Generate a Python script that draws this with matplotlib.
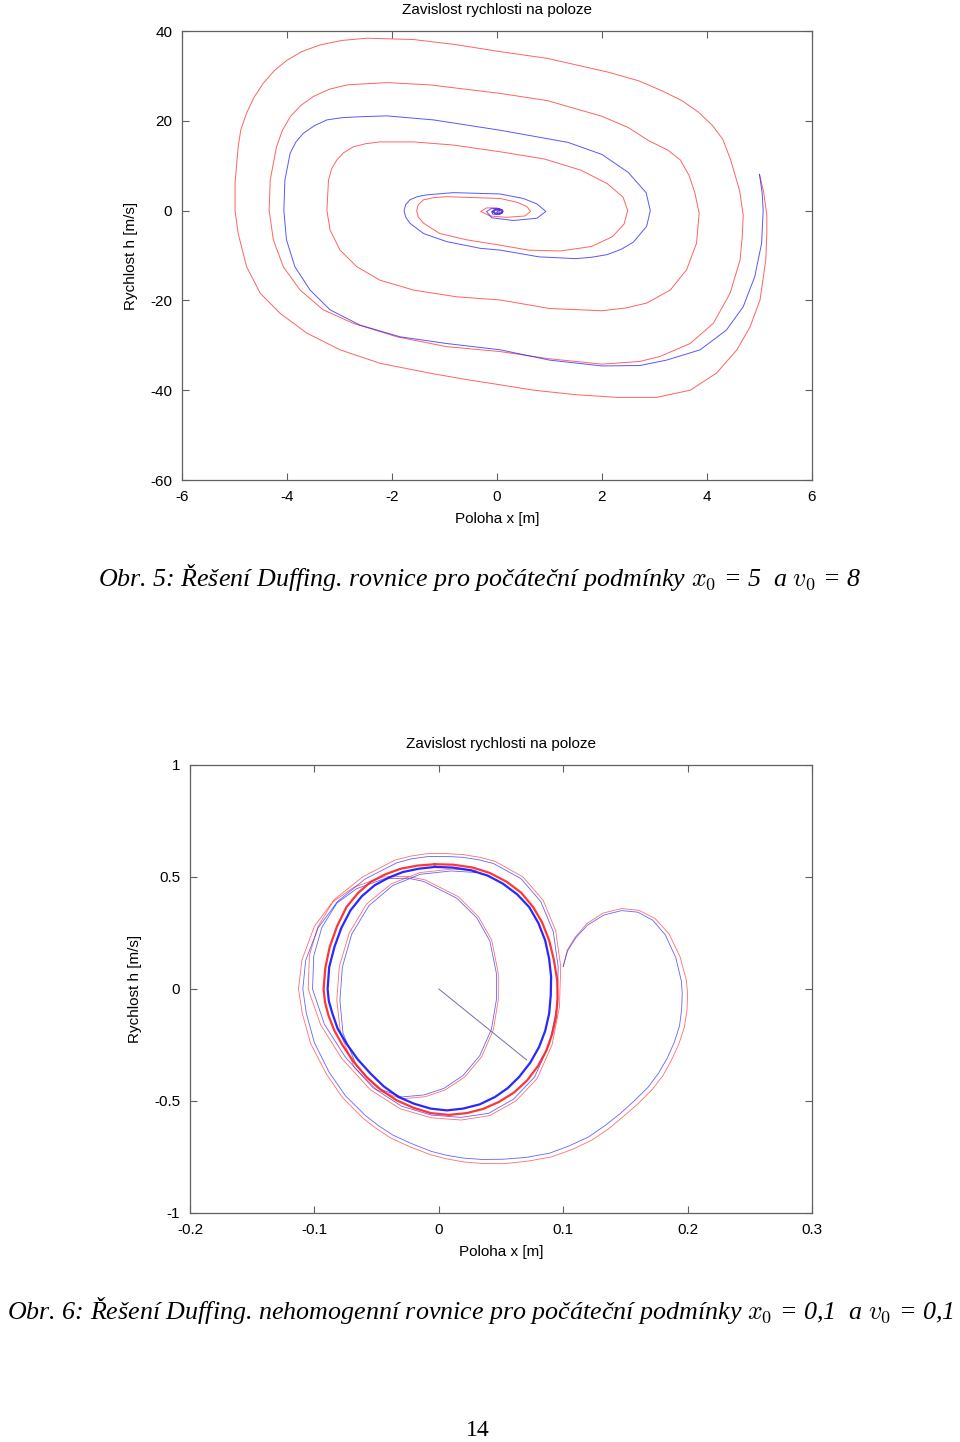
import numpy as np
import matplotlib
matplotlib.use('Agg')
import matplotlib.pyplot as plt

plt.rcParams['axes.unicode_minus'] = False
plt.rcParams['mathtext.fontset'] = 'cm'
plt.rcParams['font.family'] = ['Liberation Sans', 'DejaVu Sans']

# ---------------- data: Obr. 5 (x [m], v [m/s]) ----------------
top_red = [
    (5.00, 8.1), (5.08, 4.0), (5.14, -1.0), (5.14, -5.0), (5.12, -11.0), (5.01, -19.9),
    (4.82, -25.9), (4.57, -31.0), (4.18, -36.2), (3.68, -40.0), (3.04, -41.6), (2.3, -41.6),
    (1.5, -41.0), (0.7, -40.0), (0.06, -38.8), (-0.6, -37.6), (-1.28, -36.2), (-2.23, -34.0),
    (-2.99, -31.0), (-3.62, -27.3), (-4.13, -22.9), (-4.51, -18.4), (-4.77, -12.5), (-4.93, -5.1),
    (-4.99, 0.0), (-4.99, 6.1), (-4.93, 14.2), (-4.88, 18.0), (-4.77, 21.7), (-4.63, 25.2),
    (-4.45, 28.4), (-4.24, 31.2), (-4.0, 33.5), (-3.72, 35.4), (-3.37, 36.9), (-2.95, 37.9),
    (-2.48, 38.4), (-1.59, 38.1), (-0.8, 37.0), (0.06, 35.4), (0.96, 33.9), (2.13, 30.8),
    (2.7, 28.9), (3.14, 26.7), (3.52, 24.5), (3.84, 21.9), (4.1, 19.0), (4.30, 15.9),
    (4.45, 11.3), (4.62, 4.5), (4.69, -1.0), (4.67, -6.0), (4.63, -11.0), (4.44, -18.4),
    (4.12, -25.1), (3.68, -29.6), (3.10, -32.5), (2.72, -33.6), (2.0, -34.2), (1.0, -33.0),
    (0.06, -31.4), (-0.96, -30.3), (-1.91, -28.1), (-2.74, -25.1), (-3.31, -22.1), (-3.75, -17.7),
    (-4.07, -12.5), (-4.26, -6.5), (-4.34, 0.0), (-4.32, 6.8), (-4.20, 14.2), (-4.09, 17.8),
    (-3.94, 20.9), (-3.74, 23.4), (-3.50, 25.4), (-3.2, 27.0), (-2.86, 28.0), (-2.10, 28.5),
    (-1.28, 28.0), (0.06, 26.1), (0.96, 24.5), (2.0, 21.0), (2.5, 18.5), (2.9, 15.5),
    (3.25, 13.5), (3.49, 11.3), (3.66, 7.8), (3.77, 3.9), (3.85, -0.6), (3.80, -7.3),
    (3.61, -13.2), (3.30, -17.7), (2.85, -20.6), (2.45, -21.7), (2.0, -22.3), (1.0, -21.8),
    (0.06, -19.9), (-0.77, -19.2), (-1.59, -17.7), (-2.23, -15.5), (-2.67, -12.5), (-2.99, -8.8),
    (-3.18, -4.3), (-3.24, 0.0), (-3.21, 6.8), (-3.15, 9.3), (-3.05, 11.3), (-2.92, 12.9),
    (-2.74, 14.2), (-2.5, 14.9), (-2.23, 15.3), (-1.59, 15.3), (-0.83, 14.6), (0.06, 13.1),
    (0.9, 11.5), (1.6, 9.0), (2.1, 6.0), (2.4, 3.0), (2.49, 0.0), (2.42, -3.0),
    (2.2, -5.8), (1.8, -8.0), (1.2, -9.0), (0.6, -8.8), (0.06, -7.7), (-0.58, -6.5),
    (-1.09, -5.1), (-1.40, -2.8), (-1.50, -1.4), (-1.53, 0.0), (-1.50, 1.3), (-1.40, 2.4),
    (-1.2, 2.9), (-0.96, 3.1), (0.06, 2.7), (0.4, 1.8), (0.57, 0.9), (0.64, -0.2),
    (0.53, -1.2), (0.18, -1.5), (-0.13, -1.2), (-0.31, -0.2), (-0.2, 0.6), (0.0, 0.6),
    (0.1, 0.2), (0.1, -0.5), (0.0, -0.8), (-0.1, -0.3), (-0.05, 0.3), (0.05, 0.2),
    (0.05, -0.4), (0.0, -0.3),
]
top_blue = [
    (5.00, 8.0), (5.05, 4.0), (5.07, 0.1), (5.04, -7.3), (4.91, -14.7), (4.69, -21.4),
    (4.37, -26.6), (3.87, -31.0), (3.23, -33.3), (2.72, -34.5), (2.0, -34.6), (1.0, -33.3),
    (0.06, -31.0), (-0.96, -29.6), (-1.85, -28.1), (-2.61, -25.5), (-3.18, -22.1), (-3.56, -17.7),
    (-3.85, -12.5), (-4.01, -6.5), (-4.06, 0.0), (-4.04, 6.8), (-3.94, 12.8), (-3.83, 15.3),
    (-3.69, 17.2), (-3.48, 18.9), (-3.24, 20.2), (-2.95, 20.7), (-2.61, 20.9), (-2.10, 21.1),
    (-1.21, 20.2), (0.06, 17.9), (1.35, 15.2), (2.0, 12.5), (2.5, 8.5), (2.84, 4.0),
    (2.92, 0.0), (2.85, -3.5), (2.6, -7.0), (2.37, -8.6), (2.1, -9.8), (1.8, -10.4),
    (1.5, -10.7), (0.8, -10.3), (0.06, -8.8), (-0.32, -8.4), (-0.96, -6.9), (-1.40, -5.1),
    (-1.66, -2.8), (-1.74, -1.4), (-1.77, 0.0), (-1.74, 1.3), (-1.66, 2.4), (-1.52, 3.1),
    (-1.34, 3.5), (-0.83, 4.0), (0.06, 3.7), (0.5, 2.7), (0.76, 1.5), (0.93, -0.2),
    (0.76, -1.7), (0.31, -2.2), (-0.1, -1.6), (-0.2, -0.2), (-0.1, 0.5), (0.05, 0.4),
    (0.12, -0.2), (0.05, -0.9), (-0.08, -0.8), (-0.1, -0.2), (0.0, 0.4), (0.11, 0.1),
    (0.1, -0.6), (0.0, -0.8), (-0.08, -0.3), (0.0, 0.3), (0.1, -0.1), (0.05, -0.6),
    (-0.05, -0.5), (-0.05, 0.1), (0.05, 0.1), (0.0, -0.3),
]
top_xticks = [-6, -4, -2, 0, 2, 4, 6]
top_yticks = [-60, -40, -20, 0, 20, 40]

# ---------------- data: Obr. 6 ----------------
bot_red = [
    (0.1, 0.1), (0.1032, 0.173), (0.1097, 0.232), (0.119, 0.292), (0.132, 0.339), (0.147, 0.359),
    (0.161, 0.351), (0.174, 0.314), (0.185, 0.247), (0.194, 0.143), (0.199, 0.039), (0.2, -0.021),
    (0.1995, -0.095), (0.1974, -0.170), (0.193, -0.245), (0.187, -0.318), (0.18, -0.388),
    (0.171, -0.452), (0.160, -0.513), (0.148, -0.571), (0.136, -0.626), (0.1226, -0.676),
    (0.107, -0.717), (0.0903, -0.75), (0.071, -0.769), (0.0516, -0.78), (0.035, -0.779),
    (0.02, -0.772), (0.006, -0.758), (-0.0065, -0.74), (-0.023, -0.705), (-0.0387, -0.665),
    (-0.0505, -0.622), (-0.0613, -0.575), (-0.0774, -0.485), (-0.0903, -0.38), (-0.103, -0.244),
    (-0.1097, -0.11), (-0.1128, 0.0), (-0.11, 0.13), (-0.1, 0.28), (-0.0839, 0.4),
    (-0.0613, 0.5), (-0.0355, 0.575), (-0.023, 0.593), (-0.0097, 0.604), (0.005, 0.605),
    (0.0194, 0.6), (0.033, 0.588), (0.0452, 0.57), (0.0677, 0.5), (0.0839, 0.396), (0.094, 0.26),
    (0.098, 0.1), (0.097, -0.08), (0.091, -0.25), (0.079, -0.4), (0.062, -0.5), (0.041, -0.565),
    (0.018, -0.585), (-0.006, -0.575), (-0.031, -0.535), (-0.055, -0.45), (-0.078, -0.31),
    (-0.095, -0.16), (-0.105, 0.0), (-0.104, 0.15), (-0.097, 0.28), (-0.085, 0.39),
    (-0.068, 0.455), (-0.045, 0.5), (-0.025, 0.503), (-0.011, 0.487), (0.0157, 0.412),
    (0.0318, 0.323), (0.0425, 0.219), (0.0478, 0.070), (0.0478, -0.049), (0.0438, -0.183),
    (0.0345, -0.302), (0.021, -0.392), (0.005, -0.451), (-0.011, -0.481), (-0.03, -0.49),
    (-0.05, -0.45), (-0.068, -0.35), (-0.079, -0.2), (-0.082, -0.05), (-0.080, 0.1),
    (-0.072, 0.25), (-0.058, 0.38), (-0.038, 0.47), (-0.015, 0.52), (0.01, 0.535),
    (0.03, 0.53),
]
bot_blue = [
    (0.1, 0.1), (0.1035, 0.17), (0.11, 0.228), (0.1195, 0.285), (0.1325, 0.33), (0.147, 0.35),
    (0.16, 0.343), (0.172, 0.307), (0.182, 0.242), (0.1905, 0.14), (0.195, 0.035), (0.1957, -0.02),
    (0.1952, -0.092), (0.1935, -0.165), (0.1893, -0.238), (0.1835, -0.31), (0.1765, -0.377),
    (0.168, -0.44), (0.157, -0.50), (0.1455, -0.558), (0.133, -0.612), (0.1205, -0.66),
    (0.105, -0.700), (0.089, -0.733), (0.070, -0.752), (0.0516, -0.76), (0.035, -0.761),
    (0.02, -0.755), (0.006, -0.742), (-0.006, -0.725), (-0.022, -0.69), (-0.037, -0.652),
    (-0.0485, -0.61), (-0.059, -0.565), (-0.075, -0.477), (-0.088, -0.373), (-0.1, -0.24),
    (-0.1065, -0.108), (-0.1093, 0.0), (-0.107, 0.128), (-0.097, 0.273), (-0.0815, 0.39),
    (-0.0595, 0.49), (-0.034, 0.563), (-0.022, 0.581), (-0.009, 0.591), (0.005, 0.592),
    (0.019, 0.588), (0.032, 0.577), (0.044, 0.56), (0.066, 0.493), (0.082, 0.39),
    (0.092, 0.256), (0.096, 0.098), (0.095, -0.078), (0.089, -0.245), (0.077, -0.393),
    (0.06, -0.492), (0.04, -0.555), (0.018, -0.573), (-0.006, -0.563), (-0.03, -0.523),
    (-0.053, -0.44), (-0.075, -0.305), (-0.092, -0.157), (-0.1015, 0.0), (-0.1005, 0.148),
    (-0.094, 0.275), (-0.082, 0.383), (-0.066, 0.448), (-0.044, 0.492), (-0.025, 0.495),
    (-0.012, 0.48), (0.0145, 0.405), (0.0305, 0.318), (0.041, 0.215), (0.0463, 0.07),
    (0.0463, -0.048), (0.0423, -0.18), (0.033, -0.297), (0.0195, -0.386), (0.004, -0.444),
    (-0.012, -0.473), (-0.03, -0.482), (-0.049, -0.443), (-0.066, -0.345), (-0.077, -0.197),
    (-0.0795, -0.05), (-0.0775, 0.098), (-0.07, 0.245), (-0.056, 0.373), (-0.037, 0.462),
    (-0.015, 0.512), (0.01, 0.527), (0.03, 0.52),
]
# settled cycle (drawn heavier)
ring_red = [
    (-0.0032, 0.557), (0.0115, 0.555), (0.0274, 0.542), (0.0410, 0.518), (0.0548, 0.478),
    (0.0662, 0.430), (0.0758, 0.366), (0.0830, 0.298), (0.0887, 0.217), (0.0925, 0.130),
    (0.0952, 0.039), (0.0955, -0.043), (0.0942, -0.125), (0.0912, -0.200), (0.0865, -0.274),
    (0.0797, -0.344), (0.0710, -0.408), (0.0605, -0.462), (0.0484, -0.504), (0.0358, -0.535),
    (0.0226, -0.554), (0.0080, -0.562), (-0.0065, -0.554), (-0.0205, -0.530), (-0.0339, -0.497),
    (-0.0465, -0.450), (-0.0581, -0.393), (-0.0683, -0.326), (-0.0774, -0.251), (-0.0840, -0.185),
    (-0.0887, -0.118), (-0.0915, -0.058), (-0.0926, 0.0), (-0.0912, 0.095), (-0.0877, 0.1875),
    (-0.0818, 0.280), (-0.0742, 0.366), (-0.0650, 0.428), (-0.0548, 0.478), (-0.0430, 0.512),
    (-0.0306, 0.537), (-0.0170, 0.551), (-0.0032, 0.557),
]
ring_blue = [
    (-0.0032, 0.545), (0.0113, 0.542), (0.0258, 0.530), (0.0394, 0.506), (0.0516, 0.470),
    (0.0629, 0.423), (0.0726, 0.366), (0.0800, 0.295), (0.0855, 0.217), (0.0887, 0.135),
    (0.0903, 0.054), (0.0900, -0.028), (0.0887, -0.110), (0.0855, -0.1875), (0.0806, -0.259),
    (0.0735, -0.329), (0.0645, -0.393), (0.0555, -0.442), (0.0452, -0.482), (0.0329, -0.515),
    (0.0194, -0.534), (0.0065, -0.542), (-0.0065, -0.534), (-0.0200, -0.512), (-0.0323, -0.482),
    (-0.0442, -0.435), (-0.0548, -0.378), (-0.0652, -0.314), (-0.0742, -0.244), (-0.0813, -0.177),
    (-0.0855, -0.110), (-0.0884, -0.054), (-0.0894, 0.0), (-0.0881, 0.098), (-0.0839, 0.1875),
    (-0.0784, 0.272), (-0.0710, 0.351), (-0.0619, 0.414), (-0.0516, 0.463), (-0.0403, 0.497),
    (-0.0290, 0.522), (-0.0161, 0.537), (-0.0032, 0.545),
]
bot_line = [(0.0, 0.0), (0.0707, -0.317)]
bot_xticks = [-0.2, -0.1, 0, 0.1, 0.2, 0.3]
bot_xlabels = ['-0.2', '-0.1', '0', '0.1', '0.2', '0.3']
bot_yticks = [-1, -0.5, 0, 0.5, 1]
bot_ylabels = ['-1', '-0.5', '0', '0.5', '1']

TITLE = 'Zavislost rychlosti na poloze'
XLABEL = 'Poloha x [m]'
YLABEL = 'Rychlost h [m/s]'
RED = '#ff2020'
BLUE = '#1010ff'

W, H = 960, 1442
fig = plt.figure(figsize=(W / 100, H / 100), dpi=100)


def style_axes(ax):
    for s in ax.spines.values():
        s.set_color('#606060')
        s.set_linewidth(0.9)
    ax.tick_params(direction='in', length=5, width=0.8, color='#606060',
                   top=True, right=True, labelsize=11, pad=7)
    ax.set_title(TITLE, fontsize=11, pad=12)
    ax.set_xlabel(XLABEL, fontsize=11, labelpad=6)
    ax.set_ylabel(YLABEL, fontsize=11, labelpad=9)


def plot_path(ax, pts, color, lw, alpha):
    a = np.array(pts)
    ax.plot(a[:, 0], a[:, 1], color=color, lw=lw, alpha=alpha, solid_joinstyle='round')


# --- Obr. 5 ---
ax1 = fig.add_axes([182 / W, 1 - 480 / H, 630 / W, 449 / H])
plot_path(ax1, top_red, RED, 0.7, 0.7)
plot_path(ax1, top_blue, BLUE, 0.7, 0.7)
ax1.set_xlim(-6, 6)
ax1.set_ylim(-60, 40)
ax1.set_xticks(top_xticks)
ax1.set_yticks(top_yticks)
style_axes(ax1)

# --- Obr. 6 ---
ax2 = fig.add_axes([190 / W, 1 - 1213 / H, 622 / W, 448 / H])
plot_path(ax2, bot_red, RED, 0.6, 0.65)
plot_path(ax2, bot_blue, BLUE, 0.6, 0.65)
plot_path(ax2, ring_red, RED, 1.6, 0.9)
plot_path(ax2, ring_blue, BLUE, 1.6, 0.9)
plot_path(ax2, bot_line, '#6a5a9a', 0.7, 0.9)
ax2.set_xlim(-0.2, 0.3)
ax2.set_ylim(-1, 1)
ax2.set_xticks(bot_xticks)
ax2.set_xticklabels(bot_xlabels)
ax2.set_yticks(bot_yticks)
ax2.set_yticklabels(bot_ylabels)
style_axes(ax2)

# captions
cap_kw = dict(ha='center', va='center', fontsize=18.7, style='italic',
              family=['Liberation Serif', 'DejaVu Serif'])
fig.text(480 / W, 1 - 578 / H,
         'Obr. 5: Řešení Duffing. rovnice pro počáteční podmínky $x_0$ = 5  a $v_0$ = 8',
         **cap_kw)
fig.text(480 / W, 1 - 1311 / H,
         'Obr. 6: Řešení Duffing. nehomogenní rovnice pro počáteční podmínky $x_0$ = 0,1  a $v_0$ = 0,1',
         **cap_kw)
fig.text(478 / W, 1 - 1431 / H, '14', ha='center', va='center', fontsize=17,
         family=['Liberation Serif', 'DejaVu Serif'])

fig.savefig('out.png', dpi=100)
plt.close(fig)
